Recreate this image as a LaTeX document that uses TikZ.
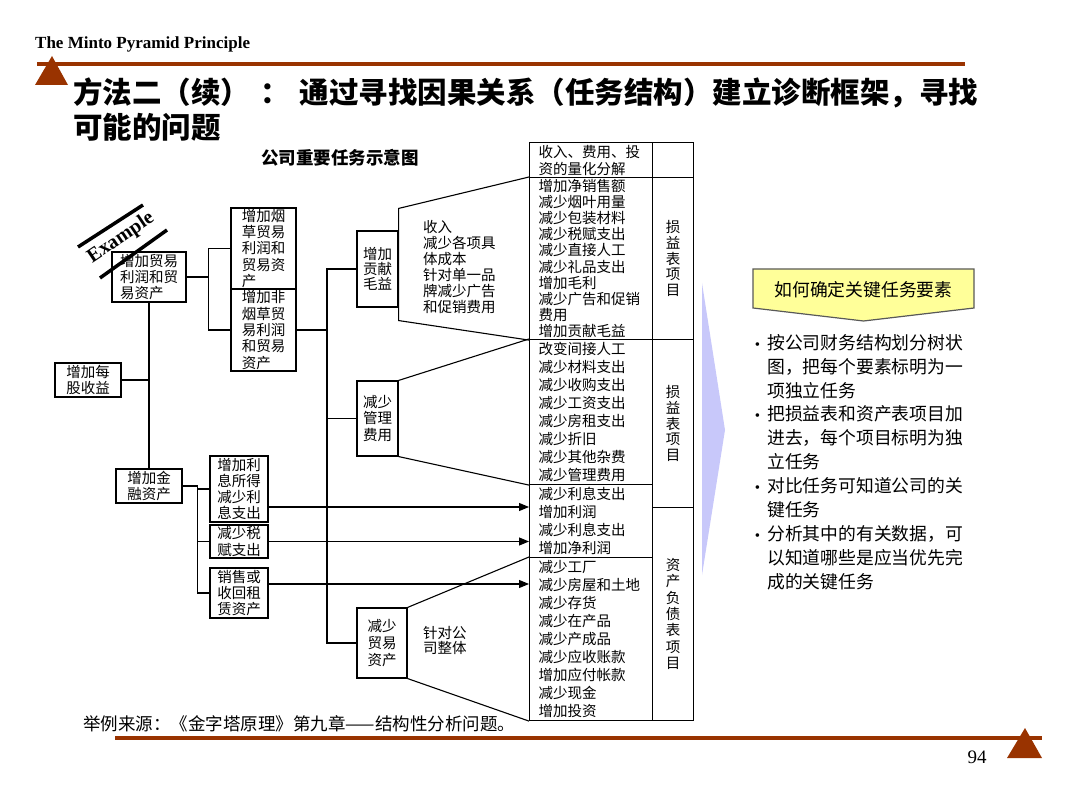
\documentclass[tikz,border=0pt]{standalone}
\usepackage{fontspec}
\setmainfont{Liberation Serif}
\newfontfamily\cjk{Noto Sans CJK SC}
\usetikzlibrary{arrows.meta}

\definecolor{mintobrown}{HTML}{993300}
\definecolor{calloutyellow}{HTML}{FFFF99}
\definecolor{wedgeblue}{RGB}{200,200,250}

\newcommand{\bull}{{\rmfamily\fontsize{15}{15}\selectfont\textbullet}\hspace{7pt}}

\tikzset{
  wire/.style={line width=1.1pt},
  arr/.style={wire, -{Triangle[length=10pt,width=8pt]}},
  treebox/.style={draw, line width=1.1pt, inner sep=0pt, align=left,
    font=\cjk\fontsize{14.5}{16.3}\selectfont},
  listbox/.style={draw, line width=1.1pt, anchor=north west, inner xsep=9pt,
    inner ysep=0pt, text width=105pt, minimum width=123pt, align=left,
    font=\cjk\fontsize{14.5}{#1}\selectfont},
  listbox/.default=18,
  sidebox/.style={draw, line width=1.1pt, anchor=north west, inner sep=0pt,
    minimum width=41pt, align=center, font=\cjk\fontsize{14.5}{15.8}\selectfont},
  note/.style={inner sep=0pt, align=left, anchor=west,
    font=\cjk\fontsize{14.5}{16}\selectfont}
}

\begin{document}
\begin{tikzpicture}[x=1pt, y=-1pt]
    \useasboundingbox (0,0) rectangle (1080,810);

    \node[anchor=west, inner sep=0pt, font=\bfseries\fontsize{17}{20}\selectfont] (header) at (35,44) {The Minto Pyramid Principle};
    \draw[mintobrown, line width=4pt] (37,64) -- (965,64);
    \fill[mintobrown] (35,85) -- (52,56) -- (68,85) -- cycle;
    \node[anchor=west, inner sep=0pt, font=\cjk\bfseries\fontsize{29.5}{34}\selectfont] (title1) at (73,93) {方法二（续）\hspace{10pt}：\hspace{10pt}通过寻找因果关系（任务结构）建立诊断框架，寻找};
    \node[anchor=west, inner sep=0pt, font=\cjk\bfseries\fontsize{29.5}{34}\selectfont] (title2) at (73,127) {可能的问题};

    \node[font=\cjk\bfseries\fontsize{17.5}{20}\selectfont] (charttitle) at (340,158) {公司重要任务示意图};

    \node[treebox, minimum width=66pt, minimum height=34pt] (eps) at (88,380) {增加每\\股收益};
    \node[treebox, minimum width=74pt, minimum height=50pt] (trade) at (149,277) {增加贸易\\利润和贸\\易资产};
    \node[treebox, minimum width=66pt, minimum height=34pt] (fin) at (149,486) {增加金\\融资产};
    \node[treebox, minimum width=65pt, minimum height=81pt] (tob) at (263.5,248.5) {增加烟\\草贸易\\利润和\\贸易资\\产};
    \node[treebox, minimum width=65pt, minimum height=82pt] (ntob) at (263.5,330) {增加非\\烟草贸\\易利润\\和贸易\\资产};
    \node[treebox, minimum width=58pt, minimum height=66pt] (intr) at (239,489) {增加利\\息所得\\减少利\\息支出};
    \node[treebox, minimum width=58pt, minimum height=33pt] (tax) at (239,541.5) {减少税\\赋支出};
    \node[treebox, minimum width=58pt, minimum height=50pt] (lease) at (239,593) {销售或\\收回租\\赁资产};
    \node[treebox, minimum width=41pt, minimum height=76pt, font=\cjk\fontsize{14.5}{15}\selectfont] (margin) at (377.5,269) {增加\\贡献\\毛益};
    \node[treebox, minimum width=41pt, minimum height=75pt, font=\cjk\fontsize{14.5}{16.7}\selectfont] (admin) at (377.5,418.5) {减少\\管理\\费用};
    \node[treebox, minimum width=50pt, minimum height=70pt, font=\cjk\fontsize{14.5}{16.7}\selectfont] (assets) at (382,643) {减少\\贸易\\资产};

    \draw[line width=3.5pt] (78,247) -- (143,205);
    \draw[line width=3.5pt] (100,278) -- (167,230);
    \node[rotate=34, font=\bfseries\fontsize{20}{22}\selectfont] (example) at (121,238) {Example};

    \node[listbox=17, minimum height=35pt] (head) at (529,142) {收入、费用、投\\资的量化分解};
    \node[listbox=16.2, minimum height=162pt] (blocka) at (529,177) {增加净销售额\\减少烟叶用量\\减少包装材料\\减少税赋支出\\减少直接人工\\减少礼品支出\\增加毛利\\减少广告和促销\\费用\\增加贡献毛益};
    \node[listbox, minimum height=145pt] (blockb) at (529,339) {改变间接人工\\减少材料支出\\减少收购支出\\减少工资支出\\减少房租支出\\减少折旧\\减少其他杂费\\减少管理费用};
    \node[listbox, minimum height=73pt] (blockc) at (529,484) {减少利息支出\\增加利润\\减少利息支出\\增加净利润};
    \node[listbox, minimum height=163pt] (blockd) at (529,557) {减少工厂\\减少房屋和土地\\减少存货\\减少在产品\\减少产成品\\减少应收账款\\增加应付帐款\\减少现金\\增加投资};

    \node[sidebox, minimum height=35pt] (sidehead) at (652,142) {};
    \node[sidebox, minimum height=162pt] (sidea) at (652,177) {损\\益\\表\\项\\目};
    \node[sidebox, minimum height=168pt] (sideb) at (652,339) {损\\益\\表\\项\\目};
    \node[sidebox, minimum height=213pt, font=\cjk\fontsize{14.5}{16.3}\selectfont] (sidec) at (652,507) {资\\产\\负\\债\\表\\项\\目};

    \node[note] (margintxt) at (423,267) {收入\\减少各项具\\体成本\\针对单一品\\牌减少广告\\和促销费用};
    \node[note, font=\cjk\fontsize{14.5}{15}\selectfont] (assettxt) at (423,640) {针对公\\司整体};

    \draw[wire] (eps.east) -- (eps.east -| trade.south);
    \draw[wire] (trade.south) -- (fin.north);
    \draw[wire] (trade.east) -- ++(22,0) coordinate (tradebus);
    \draw[wire] (tob.west) -| (tradebus) |- (ntob.west);
    \coordinate (bus) at (327,330);
    \draw[wire] (ntob.east) -- (bus);
    \draw[wire] (margin.west) -| (bus) |- (assets.west);
    \draw[wire] (admin.west) -- (admin.west -| bus);
    \draw[wire] (fin.east) -- ++(15,0) coordinate (finbus);
    \draw[wire] (intr.west) -| (finbus) |- (lease.west);
    \draw[wire] (tax.west) -- (tax.west -| finbus);

    \draw[arr] ([yshift=-18pt]intr.east) -- ([yshift=-18pt]intr.east -| blockc.west);
    \draw[arr] (tax.east) -- (tax.east -| blockc.west);
    \draw[arr] ([yshift=9pt]lease.east) -- ([yshift=9pt]lease.east -| blockd.west);

    \draw[wire] (blocka.north west) -- ([yshift=22pt]margin.north east) -- ([yshift=-13pt]margin.south east) -- (blocka.south west);
    \draw[wire] (blockb.north west) -- (admin.north east);
    \draw[wire] (admin.south east) -- (blockb.south west);
    \draw[wire] (blockd.north west) -- (assets.north east);
    \draw[wire] (assets.south east) -- (blockd.south west);

    \fill[wedgeblue] (702,283) -- (725,430) -- (702,575) -- cycle;

    \filldraw[fill=calloutyellow, draw=black!65, line width=1.2pt] (753,269) -- (974,269) -- (974,308) -- (863.5,321) -- (753,308) -- cycle;
    \node[inner sep=0pt, font=\cjk\fontsize{17.8}{20}\selectfont] (keytext) at (863.5,290) {如何确定关键任务要素};
    \node[anchor=west, inner sep=0pt, align=left, font=\cjk\fontsize{17.8}{23.9}\selectfont] (points) at (767,462) {\llap{\bull}按公司财务结构划分树状\\图，把每个要素标明为一\\项独立任务\\\llap{\bull}把损益表和资产表项目加\\进去，每个项目标明为独\\立任务\\\llap{\bull}对比任务可知道公司的关\\键任务\\\llap{\bull}分析其中的有关数据，可\\以知道哪些是应当优先完\\成的关键任务};

    \node[anchor=west, inner sep=0pt, font=\cjk\fontsize{17.5}{20}\selectfont] (source) at (83,724) {举例来源：《金字塔原理》第九章——结构性分析问题。};
    \draw[mintobrown, line width=4pt] (115,738) -- (1042,738);
    \fill[mintobrown] (1007,758) -- (1025,728) -- (1042,758) -- cycle;
    \node[font=\fontsize{19}{22}\selectfont] (pageno) at (977,757) {94};
\end{tikzpicture}
\end{document}
